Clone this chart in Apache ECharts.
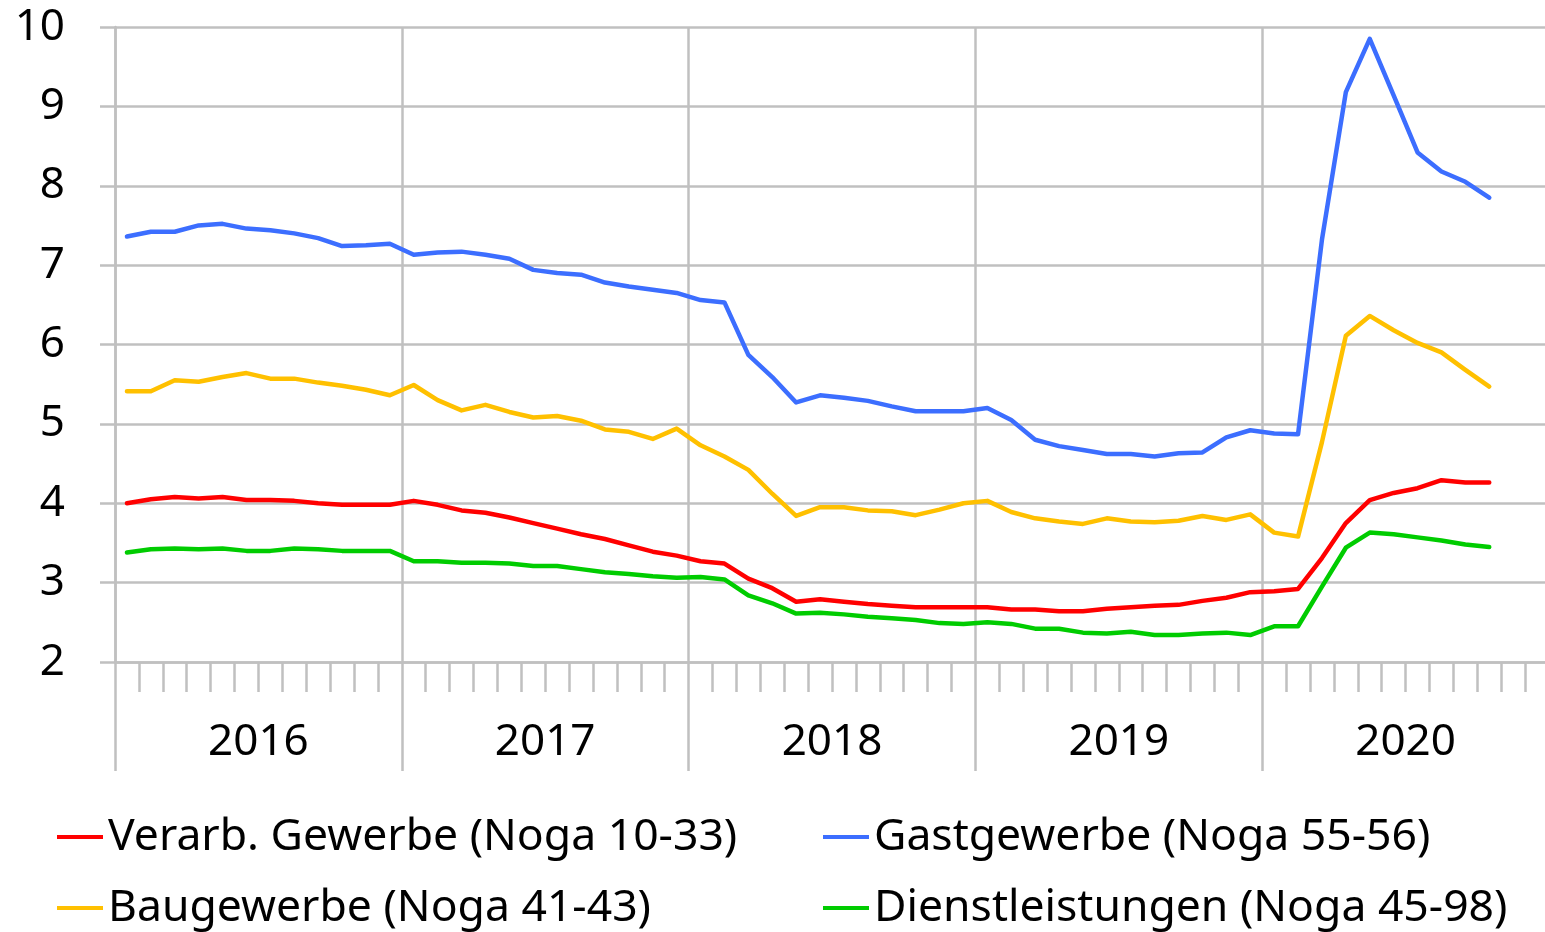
<!DOCTYPE html>
<html>
<head>
<meta charset="utf-8">
<title>Noga</title>
<script src="https://cdn.jsdelivr.net/npm/echarts@6/dist/echarts.min.js"></script>
<style>
  html, body { margin: 0; padding: 0; background: #fff; }
  #chart { width: 1545px; height: 932px; }
</style>
</head>
<body>
<div id="chart"></div>
<script>
  var months = []
  for (var y = 2016; y <= 2020; y++) {
    for (var m = 1; m <= 12; m++) {
      months.push(y + '-' + (m < 10 ? '0' + m : m))
    }
  }
  var years = ['2016', '2017', '2018', '2019', '2020']

  // Jan 2016 - Okt 2020
  var chartData = {
    verarb: [
      4.00, 4.05, 4.08, 4.06, 4.08, 4.04, 4.04, 4.03, 4.00, 3.98, 3.98, 3.98,
      4.03, 3.98, 3.91, 3.88, 3.82, 3.75, 3.68, 3.61, 3.55, 3.47, 3.39, 3.34,
      3.27, 3.24, 3.05, 2.93, 2.76, 2.79, 2.76, 2.73, 2.71, 2.69, 2.69, 2.69,
      2.69, 2.66, 2.66, 2.64, 2.64, 2.67, 2.69, 2.71, 2.72, 2.77, 2.81, 2.88,
      2.89, 2.92, 3.31, 3.75, 4.04, 4.13, 4.19, 4.29, 4.26, 4.26
    ],
    gast: [
      7.36, 7.42, 7.42, 7.50, 7.52, 7.46, 7.44, 7.40, 7.34, 7.24, 7.25, 7.27,
      7.13, 7.16, 7.17, 7.13, 7.08, 6.94, 6.90, 6.88, 6.78, 6.73, 6.69, 6.65,
      6.56, 6.53, 5.87, 5.59, 5.27, 5.36, 5.33, 5.29, 5.22, 5.16, 5.16, 5.16,
      5.20, 5.05, 4.80, 4.72, 4.67, 4.62, 4.62, 4.59, 4.63, 4.64, 4.83, 4.92,
      4.88, 4.87, 7.32, 9.18, 9.85, 9.14, 8.42, 8.18, 8.05, 7.85
    ],
    bau: [
      5.41, 5.41, 5.55, 5.53, 5.59, 5.64, 5.57, 5.57, 5.52, 5.48, 5.43, 5.36,
      5.49, 5.30, 5.17, 5.24, 5.15, 5.08, 5.10, 5.04, 4.93, 4.90, 4.81, 4.94,
      4.73, 4.59, 4.42, 4.12, 3.84, 3.95, 3.95, 3.91, 3.90, 3.85, 3.92, 4.00,
      4.03, 3.89, 3.81, 3.77, 3.74, 3.81, 3.77, 3.76, 3.78, 3.84, 3.79, 3.86,
      3.63, 3.58, 4.77, 6.11, 6.36, 6.18, 6.02, 5.90, 5.68, 5.47
    ],
    dienst: [
      3.38, 3.42, 3.43, 3.42, 3.43, 3.40, 3.40, 3.43, 3.42, 3.40, 3.40, 3.40,
      3.27, 3.27, 3.25, 3.25, 3.24, 3.21, 3.21, 3.17, 3.13, 3.11, 3.08, 3.06,
      3.07, 3.04, 2.84, 2.74, 2.61, 2.62, 2.60, 2.57, 2.55, 2.53, 2.49, 2.48,
      2.50, 2.48, 2.42, 2.42, 2.37, 2.36, 2.38, 2.34, 2.34, 2.36, 2.37, 2.34,
      2.45, 2.45, 2.95, 3.44, 3.63, 3.61, 3.57, 3.53, 3.48, 3.45
    ]
  }

  var gridColor = '#c0c0c0'
  var fontFamily = 'Noto Sans'

  function line(name, data, color) {
    return {
      name: name,
      type: 'line',
      data: data,
      symbol: 'none',
      showSymbol: false,
      lineStyle: { color: color, width: 4.5, cap: 'round', join: 'round' },
      itemStyle: { color: color },
      animation: false
    }
  }

  // one legend per entry so the 2x2 layout lines up like the original
  function legendItem(name, left, top) {
    return {
      data: [name],
      left: left,
      top: top,
      padding: 0,
      icon: 'rect',
      itemWidth: 46,
      itemHeight: 4,
      textStyle: { fontSize: 44.5, fontFamily: fontFamily, color: '#000', lineHeight: 50 }
    }
  }

  var chart = echarts.init(document.getElementById('chart'))
  chart.setOption({
    backgroundColor: '#fff',
    // plot runs to the end of 2020, a few px past the right edge
    grid: { left: 115, width: 1434, top: 27, bottom: 270, outerBoundsMode: 'none' },
    legend: [
      legendItem('Verarb. Gewerbe (Noga 10-33)', 57, 812),
      legendItem('Baugewerbe (Noga 41-43)', 57, 883),
      legendItem('Gastgewerbe (Noga 55-56)', 823, 812),
      legendItem('Dienstleistungen (Noga 45-98)', 823, 883)
    ],
    xAxis: [{
      type: 'category',
      data: months,
      boundaryGap: true,
      axisLine: { show: true, lineStyle: { color: gridColor, width: 2.5 } },
      axisTick: { show: true, interval: 0, length: 30, lineStyle: { color: gridColor, width: 2.5 } },
      axisLabel: { show: false },
      splitLine: { show: false }
    }, {
      type: 'category',
      data: years,
      position: 'bottom',
      boundaryGap: true,
      axisLine: { show: false },
      axisTick: { show: true, interval: 0, length: 109, lineStyle: { color: gridColor, width: 2.5 } },
      axisLabel: { show: true, fontSize: 44, fontFamily: fontFamily, color: '#000', margin: 58 },
      splitLine: { show: true, interval: 0, lineStyle: { color: gridColor, width: 2.5 } }
    }],
    yAxis: {
      type: 'value',
      min: 2,
      max: 10,
      interval: 1,
      axisLine: { show: true, lineStyle: { color: gridColor, width: 2.5 } },
      axisTick: { show: true, length: 15, lineStyle: { color: gridColor, width: 2.5 } },
      axisLabel: { fontSize: 44, fontFamily: fontFamily, color: '#000', margin: 50 },
      splitLine: { show: true, lineStyle: { color: gridColor, width: 2.5 } }
    },
    series: [
      line('Verarb. Gewerbe (Noga 10-33)', chartData.verarb, '#ff0000'),
      line('Gastgewerbe (Noga 55-56)', chartData.gast, '#3c6eff'),
      line('Baugewerbe (Noga 41-43)', chartData.bau, '#ffc000'),
      line('Dienstleistungen (Noga 45-98)', chartData.dienst, '#00cc00')
    ]
  })
</script>
</body>
</html>
